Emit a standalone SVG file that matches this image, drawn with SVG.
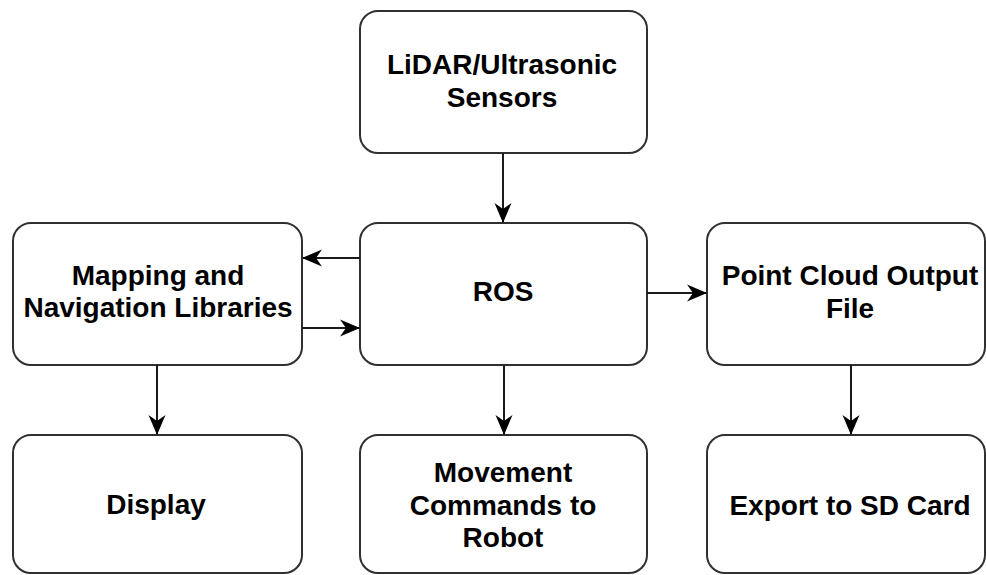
<svg xmlns="http://www.w3.org/2000/svg" width="986" height="575" viewBox="0 0 986 575">
  <defs>
    <style>
      .box { fill: #ffffff; stroke: #303030; stroke-width: 2; }
      .lbl { font-family: "Liberation Sans", Arial, Helvetica, sans-serif; font-weight: bold; font-size: 28px; fill: #000000; text-anchor: middle; }
      .edge { fill: none; stroke: #1a1a1a; stroke-width: 2; }
    </style>
    <marker id="arrow" markerUnits="userSpaceOnUse" markerWidth="20" markerHeight="18" refX="19" refY="8.5" orient="auto" viewBox="0 0 20 17">
      <path d="M0,0 L20,8.5 L0,17 L6,8.5 Z" fill="#000000"/>
    </marker>
  </defs>
  <rect width="986" height="575" fill="#ffffff"/>

  <g id="lidar">
    <rect class="box" x="360" y="11" width="287" height="142" rx="18" ry="18"/>
    <text class="lbl" x="502" y="74">LiDAR/Ultrasonic</text>
    <text class="lbl" x="502" y="107">Sensors</text>
  </g>

  <g id="mapping">
    <rect class="box" x="13" y="223" width="289" height="142" rx="18" ry="18"/>
    <text class="lbl" x="158" y="285">Mapping and</text>
    <text class="lbl" x="158" y="317">Navigation Libraries</text>
  </g>

  <g id="ros">
    <rect class="box" x="360" y="223" width="287" height="142" rx="18" ry="18"/>
    <text class="lbl" x="503" y="301">ROS</text>
  </g>

  <g id="pointcloud">
    <rect class="box" x="707" y="223" width="278" height="142" rx="18" ry="18"/>
    <text class="lbl" x="850" y="285">Point Cloud Output</text>
    <text class="lbl" x="850" y="318">File</text>
  </g>

  <g id="display">
    <rect class="box" x="13" y="435" width="289" height="138" rx="18" ry="18"/>
    <text class="lbl" x="156" y="514">Display</text>
  </g>

  <g id="movement">
    <rect class="box" x="360" y="435" width="287" height="138" rx="18" ry="18"/>
    <text class="lbl" x="503" y="482">Movement</text>
    <text class="lbl" x="503" y="515">Commands to</text>
    <text class="lbl" x="503" y="547">Robot</text>
  </g>

  <g id="export">
    <rect class="box" x="707" y="435" width="278" height="138" rx="18" ry="18"/>
    <text class="lbl" x="850" y="515">Export to SD Card</text>
  </g>

  <g id="connectors">
    <line class="edge" x1="503" y1="153" x2="503" y2="222" marker-end="url(#arrow)"/>
    <line class="edge" x1="360" y1="258" x2="303" y2="258" marker-end="url(#arrow)"/>
    <line class="edge" x1="302" y1="328" x2="359" y2="328" marker-end="url(#arrow)"/>
    <line class="edge" x1="647" y1="293" x2="706" y2="293" marker-end="url(#arrow)"/>
    <line class="edge" x1="157" y1="365" x2="157" y2="434" marker-end="url(#arrow)"/>
    <line class="edge" x1="504" y1="365" x2="504" y2="434" marker-end="url(#arrow)"/>
    <line class="edge" x1="851" y1="365" x2="851" y2="434" marker-end="url(#arrow)"/>
  </g>
</svg>
